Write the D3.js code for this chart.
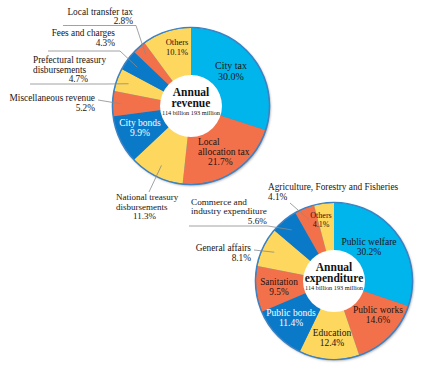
<!DOCTYPE html>
<html><head><meta charset="utf-8">
<script src="https://cdn.jsdelivr.net/npm/d3@7"></script>
<style>html,body{margin:0;padding:0;background:#fff;}svg{display:block;}</style>
</head><body>
<svg id="chart" width="433" height="379"></svg>
<script>
// ---- data ----
const revenueCategories = ["City tax","Local allocation tax","National treasury disbursements","City bonds","Miscellaneous revenue","Prefectural treasury disbursements","Fees and charges","Local transfer tax","Others"];
const revenueValues = [30.0,21.7,11.3,9.9,5.2,4.7,4.3,2.8,10.1];
const expenditureCategories = ["Public welfare","Public works","Education","Public bonds","Sanitation","General affairs","Commerce and industry expenditure","Agriculture, Forestry and Fisheries","Others"];
const expenditureValues = [30.2,14.6,12.4,11.4,9.5,8.1,5.6,4.1,4.1];
const revenueTitle = ["Annual","revenue"];
const expenditureTitle = ["Annual","expenditure"];
const totalText = "114 billion 193 million";

// ---- style / layout ----
const C = {cyan:"#00b4ec", orange:"#f2714b", yellow:"#fdd75e", blue:"#0a79c8"};
const colorFor = i => i === 0 ? C.cyan : [C.orange, C.yellow, C.blue][(i-1) % 3];
const R = 78, R0 = 30;
const fmt = v => d3.format(".1f")(v) + "%";

const revenueLabels = [
  {inside:true, lines:["City tax","{v}"], x:40, y:-37, lh:10.5, size:10},
  {inside:true, lines:["Local","allocation tax","{v}"], x:7, y:39, lh:10, size:9.5, anchor:"start", dx:[0,0,10]},
  {lines:["National treasury","disbursements","{v}"], x:-75, y:94, lh:9.5, size:9, anchor:"start", dx:[0,0,17], elbow:[149,192], rf:0.85},
  {inside:true, lines:["City bonds","{v}"], x:-51, y:20, lh:9.5, size:9.5, fill:"#fff"},
  {lines:["Miscellaneous revenue","{v}"], x:-96, y:-5, lh:9.5, size:9.3, anchor:"end", elbow:[98,100], rf:0.9},
  {lines:["Prefectural treasury","disbursements","{v}"], x:-158, y:-43, lh:9.5, size:9.3, anchor:"start", dx:[0,0,55], lineAnchor:["start","start","end"], under:[30,107,84], rf:0.85},
  {lines:["Fees and charges","{v}"], x:-76, y:-70, lh:9.5, size:9.3, anchor:"end", under:[48,120,51], rf:0.85},
  {lines:["Local transfer tax","{v}"], x:-58, y:-91.5, lh:9.5, size:9.3, anchor:"end", under:[63,136,25.5], rf:0.88},
  {inside:true, lines:["Others","{v}"], x:-14, y:-61, lh:9.5, size:8.5}
];
const expenditureLabels = [
  {inside:true, lines:["Public welfare","{v}"], x:35, y:-36, lh:10, size:9.5},
  {inside:true, lines:["Public works","{v}"], x:44, y:32, lh:10, size:9.5},
  {inside:true, lines:["Education","{v}"], x:-2, y:55, lh:10, size:9.5},
  {inside:true, lines:["Public bonds","{v}"], x:-43, y:35, lh:10, size:9.5, fill:"#fff"},
  {inside:true, lines:["Sanitation","{v}"], x:-55, y:4, lh:9.5, size:9.3},
  {lines:["General affairs","{v}"], x:-83, y:-30, lh:9.5, size:9.3, anchor:"end", elbow:[254,250], rf:0.85},
  {lines:["Commerce and","industry expenditure","{v}"], x:-143, y:-76, lh:9.3, size:9.2, anchor:"start", dx:[0,0,76], lineAnchor:["start","start","end"], under:[189,268,226], rf:0.85},
  {lines:["Agriculture, Forestry and Fisheries","{v}"], x:-66, y:-91, lh:9.5, size:9.3, anchor:"start", elbow:[290,203], rf:0.85},
  {inside:true, lines:["Others","{v}"], x:-13, y:-63, lh:9, size:8}
];

const svg = d3.select("#chart");
svg.append("rect").attr("width",433).attr("height",379).attr("fill","#fff");
const defs = svg.append("defs");
const f = defs.append("filter").attr("id","shadow").attr("x","-20%").attr("y","-20%").attr("width","140%").attr("height","140%");
f.append("feDropShadow").attr("dx",1).attr("dy",1.2).attr("stdDeviation",1.3).attr("flood-color","#555").attr("flood-opacity",0.55);

const FONT = "'Liberation Serif','DejaVu Serif',serif";
const TEXT = "#1c1412";

function drawDonut(cx, cy, values, labels, title) {
  const g = svg.append("g").attr("transform", `translate(${cx},${cy})`);
  const pie = d3.pie().sort(null).value(d => d).startAngle(0).endAngle(2*Math.PI);
  const arcs = pie(values);
  const arc = d3.arc().innerRadius(0).outerRadius(R);
  g.append("circle").attr("r", R + 0.6).attr("fill", "#3b82c4").attr("filter","url(#shadow)");
  g.selectAll("path.slice").data(arcs).enter().append("path")
    .attr("class","slice").attr("d", arc).attr("fill", (d,i) => colorFor(i));
  g.append("circle").attr("r", R + 0.6).attr("fill","none").attr("stroke","#3b82c4").attr("stroke-width",1.4);
  g.append("circle").attr("r", R0 + 1).attr("fill","#fff");

  arcs.forEach((a, i) => {
    const L = labels[i];
    if (L.inside) return;
    const mid = (a.startAngle + a.endAngle) / 2;
    const px = cx + Math.sin(mid) * R * L.rf, py = cy - Math.cos(mid) * R * L.rf;
    const pts = L.under ? [[L.under[0], L.under[2]], [L.under[1], L.under[2]], [px, py]] : [L.elbow, [px, py]];
    svg.append("path").attr("d", d3.line()(pts)).attr("fill","none")
      .attr("stroke","#8a8a8a").attr("stroke-width",0.8);
  });

  arcs.forEach((a, i) => {
    const L = labels[i];
    const t = svg.append("text").attr("font-family", FONT).attr("font-size", L.size)
      .attr("fill", L.fill || TEXT);
    L.lines.forEach((ln, k) => {
      const txt = ln === "{v}" ? fmt(a.data) : ln;
      t.append("tspan").attr("x", cx + L.x + (L.dx ? L.dx[k] : 0)).attr("y", cy + L.y + k * L.lh)
        .attr("text-anchor", L.lineAnchor ? L.lineAnchor[k] : (L.anchor || "middle"))
        .text(txt);
    });
  });

  const tt = svg.append("text").attr("font-family", FONT).attr("fill", "#111").attr("text-anchor","middle");
  tt.append("tspan").attr("x", cx).attr("y", cy - 10).attr("font-weight","bold").attr("font-size", 11.5).text(title[0]);
  tt.append("tspan").attr("x", cx).attr("y", cy + 1).attr("font-weight","bold").attr("font-size", 11.5).text(title[1]);
  tt.append("tspan").attr("x", cx).attr("y", cy + 9).attr("font-size", 6.3).text(totalText);
}

drawDonut(191, 106, revenueValues, revenueLabels, revenueTitle);
drawDonut(334, 281, expenditureValues, expenditureLabels, expenditureTitle);
</script>
</body></html>
